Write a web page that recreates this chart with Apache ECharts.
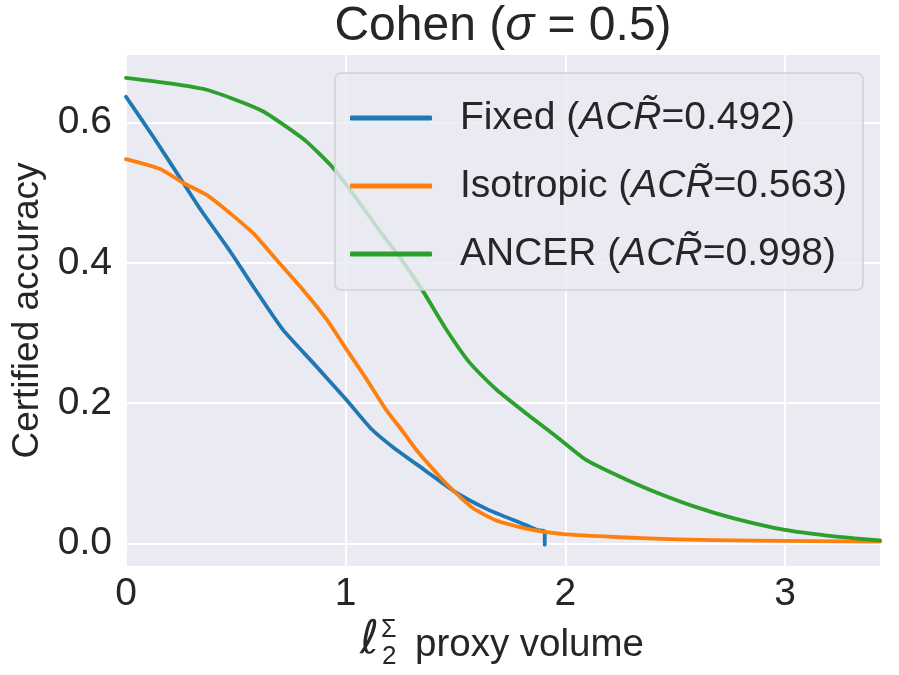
<!DOCTYPE html>
<html>
<head>
<meta charset="utf-8">
<script src="https://cdn.jsdelivr.net/npm/echarts@6/dist/echarts.min.js"></script>
<style>html,body{margin:0;padding:0;background:#fff}#c{width:899px;height:675px}</style>
</head>
<body>
<div id="c"></div>
<script>
// ---- data ----
const seriesNames = ['Fixed', 'Isotropic', 'ANCER'];
const acrValues = ['0.492', '0.563', '0.998'];
const fixedX = [0, 0.124, 0.261, 0.344, 0.473, 0.580, 0.716, 0.853, 1.005, 1.117, 1.22, 1.357, 1.494, 1.648, 1.82, 1.871, 1.906, 1.906];
const fixedY = [0.637, 0.580, 0.514, 0.474, 0.417, 0.366, 0.304, 0.257, 0.204, 0.163, 0.136, 0.105, 0.074, 0.048, 0.026, 0.019, 0.017, -0.002];
const isoX = [0, 0.155, 0.261, 0.367, 0.473, 0.580, 0.686, 0.807, 0.914, 1.005, 1.091, 1.185, 1.254, 1.322, 1.443, 1.511, 1.58, 1.683, 1.82, 1.991, 2.249, 2.506, 2.849, 3.432];
const isoY = [0.548, 0.534, 0.514, 0.497, 0.471, 0.442, 0.404, 0.361, 0.319, 0.276, 0.236, 0.190, 0.162, 0.133, 0.090, 0.069, 0.050, 0.033, 0.021, 0.013, 0.0086, 0.0057, 0.0038, 0.0024];
const ancerX = [0, 0.2, 0.367, 0.504, 0.625, 0.731, 0.822, 0.944, 1.065, 1.156, 1.247, 1.353, 1.460, 1.566, 1.687, 1.839, 1.960, 2.094, 2.249, 2.403, 2.592, 2.763, 3.0, 3.19, 3.432];
const ancerY = [0.664, 0.656, 0.647, 0.632, 0.616, 0.594, 0.573, 0.535, 0.485, 0.445, 0.408, 0.359, 0.304, 0.257, 0.219, 0.181, 0.152, 0.119, 0.095, 0.074, 0.052, 0.036, 0.019, 0.011, 0.004];
const xTicks = [0, 1, 2, 3];
const yTicks = [0, 0.2, 0.4, 0.6];

const FONT = "'Liberation Sans', Arial, sans-serif";
const TXT = '#262626';
const colors = ['#1f77b4', '#ff7f0e', '#2ca02c'];
const zip = (xs, ys) => xs.map((x, i) => [x, ys[i]]);
const allData = [zip(fixedX, fixedY), zip(isoX, isoY), zip(ancerX, ancerY)];

const chart = echarts.init(document.getElementById('c'), null, {renderer: 'canvas'});
chart.setOption({
  backgroundColor: '#ffffff',
  animation: false,
  grid: {left: 126, right: 19, top: 55, bottom: 109, show: true, backgroundColor: '#EAEAF2', borderWidth: 0},
  xAxis: {
    type: 'value', min: 0, max: 3.432,
    axisLine: {show: false}, axisTick: {show: false, customValues: xTicks},
    axisLabel: {customValues: xTicks, fontSize: 39, color: TXT, fontFamily: FONT, margin: 9, formatter: v => String(v)},
    splitLine: {show: true, lineStyle: {color: '#ffffff', width: 1.8}}
  },
  yAxis: {
    type: 'value', min: -0.0324, max: 0.6966,
    name: 'Certified accuracy', nameLocation: 'middle', nameGap: 80,
    nameTextStyle: {fontSize: 37, color: TXT, fontFamily: FONT},
    axisLine: {show: false}, axisTick: {show: false, customValues: yTicks},
    axisLabel: {customValues: yTicks, fontSize: 39, color: TXT, fontFamily: FONT, margin: 14, formatter: v => v.toFixed(1)},
    splitLine: {show: true, lineStyle: {color: '#ffffff', width: 1.8}}
  },
  legend: {
    orient: 'vertical', left: 335, top: 73,
    padding: [23, 16, 14, 15], itemGap: 24,
    itemWidth: 82, itemHeight: 5, icon: 'roundRect',
    backgroundColor: 'rgba(234,234,242,0.8)', borderColor: '#cfcfd6', borderWidth: 1.5, borderRadius: 6,
    z: 20,
    data: seriesNames,
    formatter: name => name + ' ({i|ACR\u0303}=' + acrValues[seriesNames.indexOf(name)] + ')',
    textStyle: {
      fontSize: 39, color: TXT, fontFamily: FONT, lineHeight: 44, padding: [0, 0, 0, 23],
      rich: {i: {fontStyle: 'italic', fontSize: 39, color: TXT, fontFamily: FONT, lineHeight: 44}}
    }
  },
  graphic: [
    {
      type: 'text', x: 503, y: 27, z: 10,
      style: {
        text: '{a|Cohen (}{b|σ}{a| = 0.5)}', textAlign: 'center', textVerticalAlign: 'middle',
        rich: {
          a: {fontSize: 48, fontFamily: FONT, fill: TXT, color: TXT},
          b: {fontSize: 48, fontFamily: FONT, fontStyle: 'italic', fill: TXT, color: TXT}
        }
      }
    },
    {
      type: 'group', x: 360, y: 645, z: 10,
      children: [
        {type: 'text', x: 0, y: -4, style: {text: 'ℓ', font: "46px 'DejaVu Sans'", fill: TXT, textVerticalAlign: 'middle'}},
        {type: 'text', x: 21, y: -15, style: {text: 'Σ', font: "25px 'Liberation Sans'", fill: TXT, textVerticalAlign: 'middle'}},
        {type: 'text', x: 22, y: 12, style: {text: '2', font: "26px 'Liberation Sans'", fill: TXT, textVerticalAlign: 'middle'}},
        {type: 'text', x: 55, y: 0, style: {text: 'proxy volume', font: "38.5px 'Liberation Sans'", fill: TXT, textVerticalAlign: 'middle'}}
      ]
    }
  ],
  series: seriesNames.map((n, i) => ({
    name: n, type: 'line', data: allData[i], showSymbol: false, symbol: 'none',
    smooth: 0.2, color: colors[i],
    lineStyle: {width: 3.8, color: colors[i], cap: 'round', join: 'round'},
    z: 3 + i, clip: true
  }))
});
</script>
</body>
</html>
